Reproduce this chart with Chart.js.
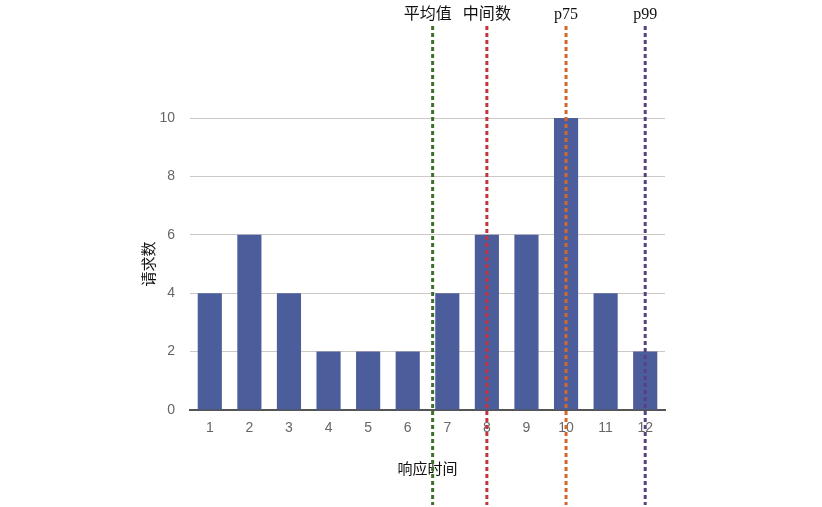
<!DOCTYPE html>
<html>
<head>
<meta charset="utf-8">
<script src="https://cdn.jsdelivr.net/npm/chart.js@4"></script>
<style>
  html, body { margin: 0; padding: 0; background: #fff; }
  #wrap { width: 822px; height: 507px; }
</style>
</head>
<body>
<div id="wrap"><canvas id="barChart" width="822" height="507"></canvas></div>
<script>
// response time buckets and request counts
const categories = ["1", "2", "3", "4", "5", "6", "7", "8", "9", "10", "11", "12"];
const requestCounts = [4, 6, 4, 2, 2, 2, 4, 6, 6, 10, 4, 2];
const yTicks = [0, 2, 4, 6, 8, 10];

// marker lines, position in bucket units
const markerLabels = ["平均值", "中间数", "p75", "p99"];
const markerValues = [6.63, 8, 10, 12];
const markerColors = ["#3f6f2c", "#c33440", "#d2662c", "#583f86"];

const markerPlugin = {
  id: "markers",
  afterDatasetsDraw(chart) {
    const { ctx } = chart;
    const x = chart.scales.x;
    const step = x.getPixelForValue(1) - x.getPixelForValue(0);
    markerValues.forEach((v, i) => {
      const idx = v - 1;
      const base = Math.floor(idx);
      const px = x.getPixelForValue(base) + (idx - base) * step;
      ctx.save();
      ctx.strokeStyle = markerColors[i];
      ctx.lineWidth = 3;
      ctx.setLineDash([4, 3]);
      ctx.beginPath();
      ctx.moveTo(px, 26);
      ctx.lineTo(px, 505);
      ctx.stroke();
      ctx.setLineDash([]);
      ctx.fillStyle = "#111";
      ctx.font = '16px "Liberation Serif", "Noto Sans CJK SC", serif';
      ctx.textAlign = "center";
      ctx.textBaseline = "middle";
      ctx.fillText(markerLabels[i], px - (i === 0 ? 5 : 0), 15);
      ctx.restore();
    });
  },
};

const ctx = document.getElementById("barChart").getContext("2d");
new Chart(ctx, {
  type: "bar",
  data: {
    labels: categories,
    datasets: [
      {
        label: "请求数",
        data: requestCounts,
        backgroundColor: "#4c5d9c",
        categoryPercentage: 1,
        barPercentage: 0.61,
      },
    ],
  },
  options: {
    responsive: false,
    animation: false,
    layout: { padding: { left: 120, right: 157, top: 118, bottom: 25 } },
    plugins: {
      legend: { display: false },
      tooltip: { enabled: false },
    },
    scales: {
      x: {
        afterFit: (s) => { s.height = 72; },
        grid: { display: false },
        border: { color: "#555", width: 2 },
        ticks: {
          color: "#666",
          padding: 2,
          font: { family: '"Liberation Sans", Arial, sans-serif', size: 14 },
        },
        title: {
          display: true,
          text: "响应时间",
          color: "#111",
          padding: { top: 0, bottom: 5 },
          font: { family: '"Noto Sans CJK SC", sans-serif', size: 15 },
        },
      },
      y: {
        min: 0,
        max: 10,
        afterFit: (s) => { s.width = 70; },
        afterBuildTicks: (s) => { s.ticks = yTicks.map((v) => ({ value: v })); },
        grid: { color: "#cdc8c4", drawTicks: false },
        border: { display: false },
        ticks: {
          color: "#666",
          padding: 15,
          font: { family: '"Liberation Sans", Arial, sans-serif', size: 14 },
        },
        title: {
          display: true,
          text: "请求数",
          color: "#111",
          padding: { top: 19, bottom: 0 },
          font: { family: '"Noto Sans CJK SC", sans-serif', size: 15 },
        },
      },
    },
  },
  plugins: [markerPlugin],
});
</script>
</body>
</html>
